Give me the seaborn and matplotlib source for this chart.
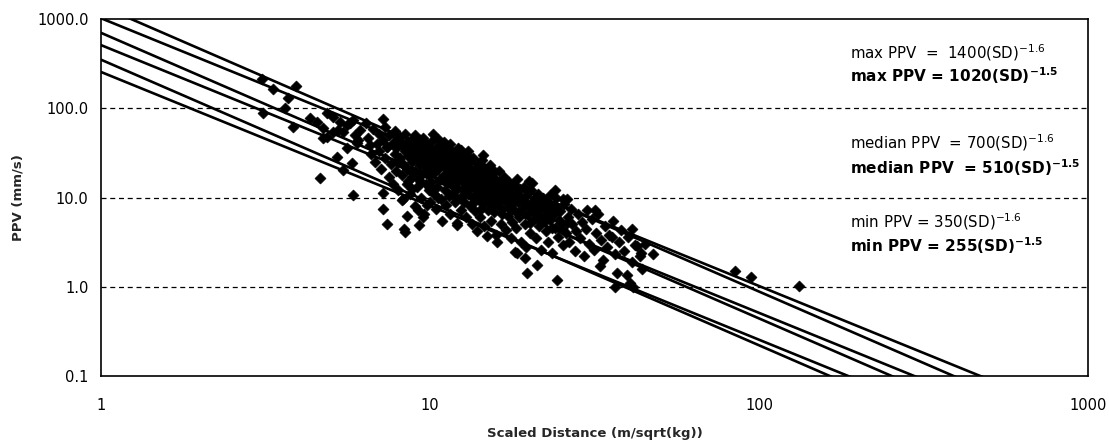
import numpy as np
import pandas as pd
import matplotlib
matplotlib.use("Agg")
import matplotlib.pyplot as plt
import seaborn as sns

# ---------------- data ----------------
# attenuation lines: PPV = coef * SD^(-exp)
line_names = ["max16", "max15", "med16", "med15", "min16", "min15"]
line_coef = [1400, 1020, 700, 510, 350, 255]
line_exp = [1.6, 1.5, 1.6, 1.5, 1.6, 1.5]

label_texts = [
    r"max PPV  =  1400(SD)$^{-1.6}$",
    r"max PPV = 1020(SD)$^{\mathbf{-1.5}}$",
    r"median PPV  = 700(SD)$^{-1.6}$",
    r"median PPV  = 510(SD)$^{\mathbf{-1.5}}$",
    r"min PPV = 350(SD)$^{-1.6}$",
    r"min PPV = 255(SD)$^{\mathbf{-1.5}}$",
]
label_bold = [False, True, False, True, False, True]

# measured points (scaled distance, PPV)
outlier_pts = [
    (3.09, 212), (3.33, 164), (3.92, 177), (3.70, 130), (3.63, 100), (3.11, 88),
    (3.83, 61), (4.32, 77), (4.54, 70), (4.86, 88), (4.73, 47), (5.07, 54),
    (5.33, 70), (5.71, 68), (6.12, 57), (6.04, 44), (6.57, 38.6), (7.40, 36.7),
    (5.22, 28.4), (5.79, 24.3), (5.44, 20.3), (4.63, 16.5), (5.83, 10.6),
    (7.19, 11.2), (7.19, 7.4), (7.40, 5.0), (8.34, 4.43), (9.26, 4.91),
    (8.22, 9.35), (9.52, 6.04), (12.1, 4.91), (14.9, 3.70), (16.0, 3.17),
    (11.0, 41.7), (14.5, 21.9), (20.4, 14.5), (23.2, 10.6), (25.4, 9.6),
    (31.7, 7.2), (41.1, 4.43), (35.7, 3.60), (42.6, 2.86), (18.1, 2.45),
    (19.7, 1.42), (21.1, 1.75), (24.3, 1.19), (32.9, 1.71), (37.0, 1.42),
    (39.7, 1.35), (36.5, 0.99), (41.4, 0.99), (43.8, 2.38), (47.6, 2.32),
    (40.5, 1.10), (84.6, 1.50), (94.6, 1.28), (132, 1.02), (18.4, 2.38),
    (19.4, 2.10), (8.4, 4.1), (4.73, 59.8), (4.86, 47.5), (5.25, 57),
    (5.59, 64.7), (5.83, 73.6), (5.07, 79), (5.44, 54), (5.92, 50),
    (5.59, 35.7), (6.0, 40.6),
]

cluster_a = [
    (6.5, 46), (6.6, 31), (6.7, 58), (6.8, 25), (6.9, 40), (7.0, 52), (7.0, 33),
    (7.1, 21), (7.2, 44), (7.3, 62), (7.3, 28), (7.4, 37), (7.5, 17), (7.5, 50),
    (7.6, 24), (7.7, 41), (7.7, 14), (7.8, 31), (7.8, 56), (7.9, 20), (7.9, 36),
    (8.0, 46), (8.0, 12), (6.4, 68), (7.2, 75),
]

cluster_b = [
    (8.1, 28), (8.1, 48), (8.2, 18), (8.2, 38), (8.3, 9.5), (8.3, 24), (8.4, 33),
    (8.4, 52), (8.5, 14), (8.5, 21), (8.6, 42), (8.6, 29), (8.7, 11), (8.7, 36),
    (8.8, 17), (8.8, 25), (8.9, 46), (8.9, 31), (9.0, 8), (9.0, 20), (9.0, 39),
    (9.1, 13), (9.1, 27), (9.2, 34), (9.2, 16), (9.3, 44), (9.3, 23), (9.4, 10),
    (9.4, 30), (9.5, 19), (9.5, 37), (9.6, 6.5), (9.6, 26), (9.7, 14), (9.7, 41),
    (9.8, 22), (9.8, 32), (9.9, 12), (9.9, 18), (10.0, 28), (10.0, 35), (10.0, 9),
    (8.5, 6.2), (9.2, 7.2), (8.0, 25), (8.6, 15.5), (9.0, 50), (9.5, 47),
    (9.8, 8.2), (8.8, 12.5),
]

cluster_c = [
    (10.1, 15), (10.1, 42), (10.2, 24), (10.2, 31), (10.3, 11), (10.3, 19),
    (10.4, 36), (10.4, 7.5), (10.5, 27), (10.5, 13), (10.6, 21), (10.6, 45),
    (10.7, 16), (10.7, 33), (10.8, 9.5), (10.8, 25), (10.9, 29), (10.9, 5.5),
    (11.0, 18), (11.0, 38), (11.1, 12), (11.1, 22), (11.2, 30), (11.2, 8.2),
    (11.3, 15), (11.3, 26), (11.4, 35), (11.4, 10.5), (11.5, 20), (11.5, 6.5),
    (11.6, 28), (11.6, 14), (11.7, 17), (11.7, 32), (11.8, 11.5), (11.8, 23),
    (11.9, 8.8), (11.9, 26), (12.0, 19), (12.0, 13), (12.1, 30), (12.1, 5.2),
    (12.2, 16), (12.2, 22), (12.3, 10), (12.3, 27), (12.4, 7.2), (12.5, 18),
    (12.5, 24), (12.6, 12.5), (12.7, 20), (12.7, 9), (12.8, 15), (12.9, 28),
    (12.9, 6), (13.0, 11), (13.0, 22), (10.2, 52), (11.5, 40), (12.4, 34),
]

cluster_d = [
    (13.1, 17), (13.2, 8), (13.2, 25), (13.3, 13), (13.4, 19.5), (13.4, 5),
    (13.5, 10), (13.5, 28), (13.6, 15), (13.7, 21), (13.7, 7), (13.8, 12),
    (13.9, 17.5), (13.9, 4.2), (14.0, 24), (14.0, 9.5), (14.1, 14), (14.2, 6),
    (14.2, 19), (14.3, 11), (14.4, 16), (14.4, 26), (14.5, 8.5), (14.6, 13),
    (14.6, 4.8), (14.7, 21), (14.8, 10), (14.9, 15.5), (15.0, 7.2), (15.0, 18),
    (15.1, 12), (15.2, 23), (15.3, 5.5), (15.3, 9), (15.4, 14.5), (15.5, 19),
    (15.6, 11), (15.7, 6.8), (15.8, 16), (15.9, 3.8), (16.0, 13), (16.0, 8.5),
    (16.2, 20), (16.3, 10), (16.4, 5), (16.5, 15), (16.6, 7.5), (16.7, 12),
    (16.8, 17), (16.9, 9.2), (17.0, 4.3), (17.0, 13.5), (14.5, 30), (13.0, 33),
]

cluster_e = [
    (17.2, 10.5), (17.3, 6.2), (17.4, 15), (17.5, 8), (17.6, 3.5), (17.7, 12),
    (17.8, 5.3), (17.9, 9.5), (18.0, 14), (18.1, 7), (18.2, 11), (18.3, 4.5),
    (18.4, 16), (18.5, 8.8), (18.6, 6), (18.8, 12.5), (18.9, 3.2), (19.0, 10),
    (19.1, 7.5), (19.3, 13), (19.4, 5), (19.5, 9), (19.6, 2.8), (19.8, 11.5),
    (19.9, 6.5), (20.0, 8), (20.2, 4), (20.3, 12), (20.5, 7), (20.6, 5.6),
    (20.8, 9.8), (21.0, 3.5), (21.1, 6.8), (21.3, 11), (21.5, 4.8), (21.6, 8.5),
    (21.8, 2.6), (22.0, 6), (22.0, 10), (20.0, 15.5),
]

cluster_f = [
    (22.3, 7.5), (22.5, 4.2), (22.7, 9), (22.9, 3.2), (23.1, 5.6), (23.3, 8),
    (23.5, 2.4), (23.8, 6.5), (24.0, 4.5), (24.2, 10), (24.5, 3.6), (24.8, 7),
    (25.0, 5.2), (25.3, 2.9), (25.6, 8.4), (25.9, 4), (26.2, 6), (26.5, 3.2),
    (26.8, 7.5), (27.1, 5), (27.5, 2.5), (27.8, 4.2), (28.2, 6.5), (28.6, 3.5),
    (29.0, 5.3), (29.4, 2.2), (29.8, 4.4), (30.0, 7.2), (24.0, 12), (26.0, 9.6),
]

cluster_g = [
    (30.5, 3), (31, 5.8), (31.5, 2.6), (32, 4), (32.5, 6.5), (33, 3.3), (33.5, 2),
    (34, 4.8), (34.5, 2.8), (35, 3.8), (36, 5.5), (36.5, 2.3), (37.5, 3.2),
    (38, 4.3), (39, 2.5), (40, 3.6), (41, 1.9), (42, 2.9), (43.5, 2.2), (45, 3),
    (44, 1.6),
]

cluster_h = [
    (8.3, 40), (8.7, 20), (9.1, 45), (9.4, 15), (9.6, 33), (9.9, 25), (10.1, 20),
    (10.4, 28), (10.6, 10), (10.9, 40), (11.1, 16), (11.3, 33), (11.6, 24),
    (11.9, 14), (12.2, 36), (12.6, 29), (12.8, 11), (13.1, 21), (13.3, 27),
    (13.6, 9), (13.8, 18), (14.1, 23), (14.3, 7.5), (14.7, 16.5), (15.0, 11),
    (15.2, 14), (15.6, 20), (15.9, 9.5), (16.2, 12), (16.5, 6.5), (16.9, 14.8),
    (17.3, 11.5), (17.6, 7.2), (18.0, 9), (18.4, 12), (18.8, 6.8), (19.2, 8.8),
    (19.6, 10.5), (20.1, 5.2), (20.5, 9.2), (21.0, 7.6), (21.4, 6), (21.9, 8),
    (22.4, 5.5), (22.9, 6.8), (23.4, 4.6), (24.0, 7.8), (24.6, 5.6), (25.2, 4.4),
    (26.0, 5.2), (9.3, 28), (10.0, 13), (10.7, 23), (11.4, 19), (12.0, 9.8),
    (12.6, 15), (13.4, 13.5), (14.0, 11.8), (15.4, 8), (16.7, 9.8),
]

x_ticks = [1, 10, 100, 1000]
x_ticklabels = ["1", "10", "100", "1000"]
y_ticks = [0.1, 1, 10, 100, 1000]
y_ticklabels = ["0.1", "1.0", "10.0", "100.0", "1000.0"]

# ---------------- build frames ----------------
all_pts = (outlier_pts + cluster_a + cluster_b + cluster_c + cluster_d
           + cluster_e + cluster_f + cluster_g + cluster_h)
pts = pd.DataFrame(all_pts, columns=["SD", "PPV"])

sd_grid = np.logspace(0, 3, 400)
line_frames = []
for name, c, e in zip(line_names, line_coef, line_exp):
    line_frames.append(pd.DataFrame({"SD": sd_grid, "PPV": c * sd_grid ** (-e), "line": name}))
lines = pd.concat(line_frames, ignore_index=True)

# ---------------- plot ----------------
sns.set_style("white")
plt.rcParams["font.family"] = ["DejaVu Sans"]

fig = plt.figure(figsize=(11.09, 4.42), dpi=100)
ax = fig.add_axes([0.0911, 0.1493, 0.890, 0.8077])
ax.set_xscale("log")
ax.set_yscale("log")

sns.scatterplot(data=pts, x="SD", y="PPV", marker="D", color="black",
                s=32, edgecolor="black", linewidth=0.4, ax=ax, zorder=3)
sns.lineplot(data=lines, x="SD", y="PPV", units="line", estimator=None,
             color="black", linewidth=1.9, ax=ax, zorder=4, sort=False)

ax.set_xlim(1, 1000)
ax.set_ylim(0.1, 1000)

ax.set_xticks(x_ticks)
ax.set_xticklabels(x_ticklabels)
ax.set_yticks(y_ticks)
ax.set_yticklabels(y_ticklabels)
ax.minorticks_off()
ax.tick_params(axis="both", which="major", direction="out", length=4,
               width=1, color="black", labelsize=10.5, labelcolor="black")
ax.tick_params(axis="x", pad=12)
ax.tick_params(axis="y", pad=5)

for yv in [1, 10, 100]:
    ax.axhline(yv, color="black", linestyle=(0, (4, 3)), linewidth=0.9, zorder=1)

for sp in ax.spines.values():
    sp.set_visible(True)
    sp.set_color("black")
    sp.set_linewidth(1.2)

ax.set_xlabel("Scaled Distance (m/sqrt(kg))", fontsize=9.5, fontweight="bold", labelpad=10)
ax.set_ylabel("PPV (mm/s)", fontsize=9.5, fontweight="bold")
ax.yaxis.set_label_coords((18 - 101) / 987, 0.5)
ax.yaxis.label.set_verticalalignment("center")

label_y = [0.905, 0.840, 0.653, 0.583, 0.431, 0.364]
for txt, yy, b in zip(label_texts, label_y, label_bold):
    ax.text(0.759, yy, txt, transform=ax.transAxes, ha="left", va="center",
            fontsize=11 if b else 10.8, fontweight="bold" if b else "normal",
            color="black", zorder=5)

fig.savefig("out.png", dpi=100)
